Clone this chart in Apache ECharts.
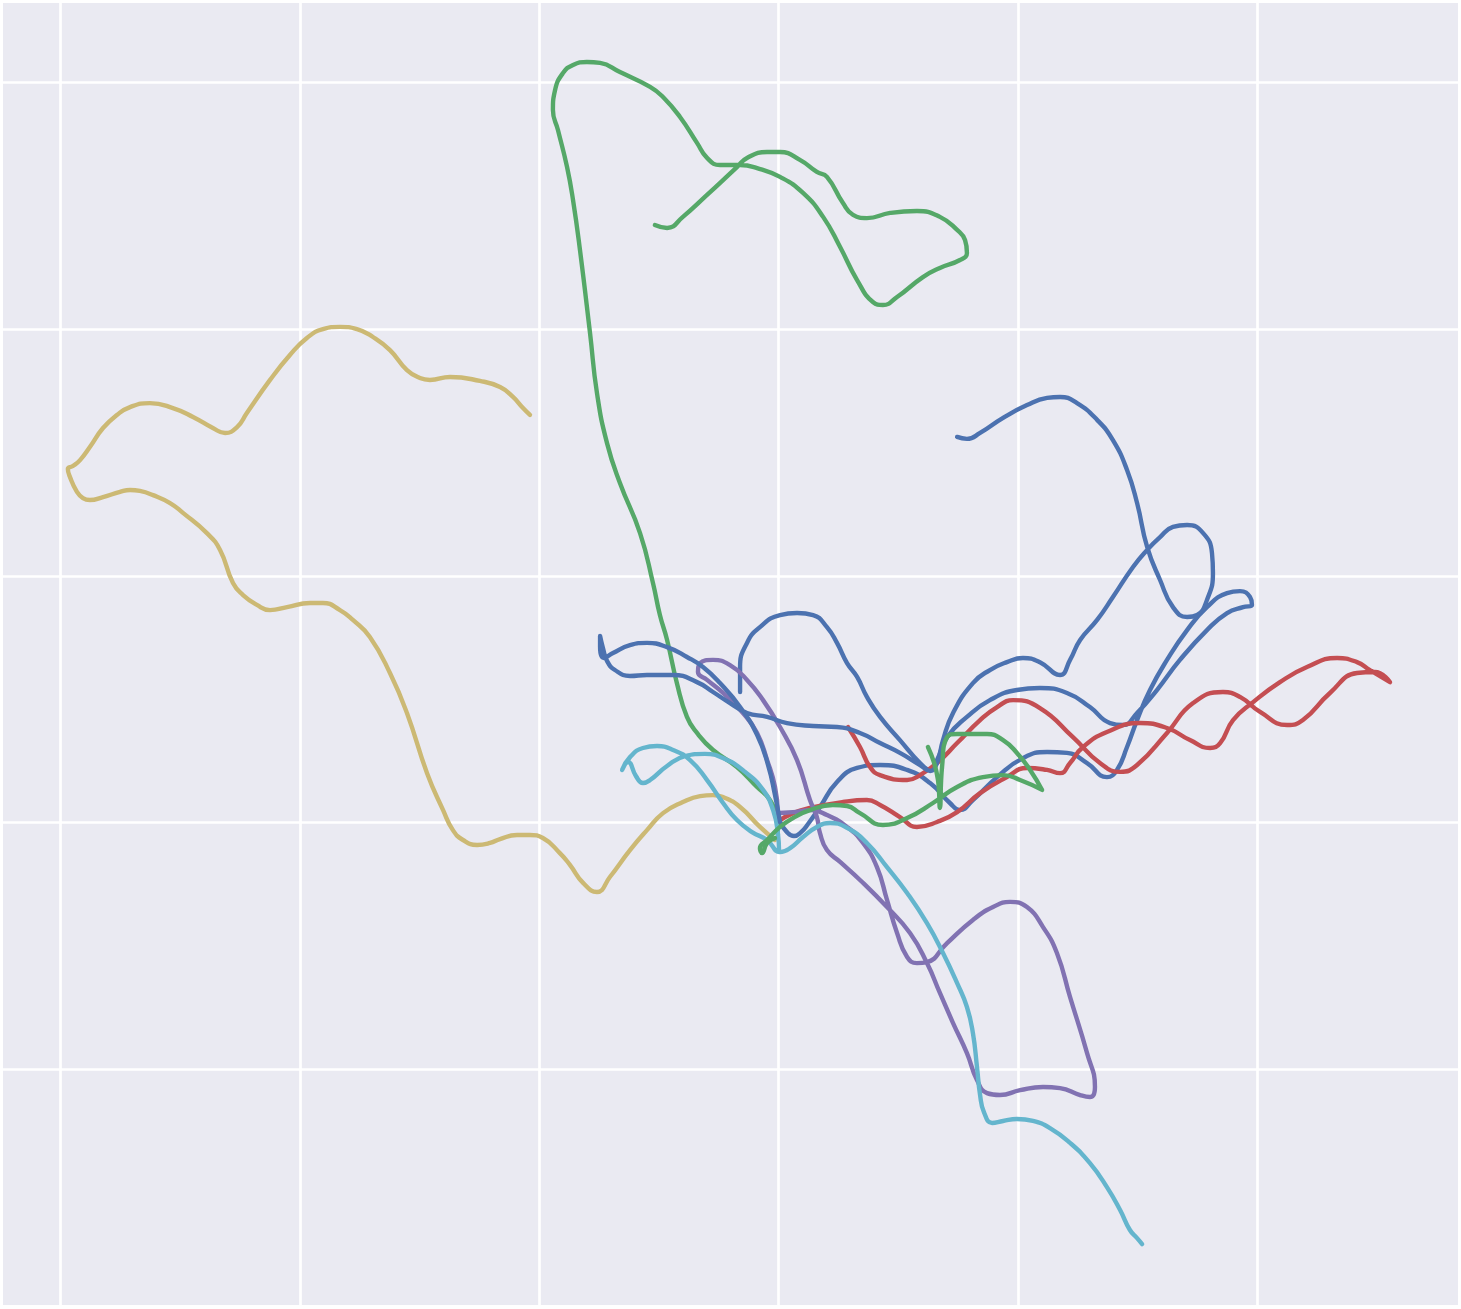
<!DOCTYPE html>
<html>
<head>
<meta charset="utf-8">
<script src="https://cdn.jsdelivr.net/npm/echarts@6/dist/echarts.min.js"></script>
<style>
html,body{margin:0;padding:0;background:#fff;}
#chart{width:1461px;height:1309px;}
</style>
</head>
<body>
<div id="chart"></div>
<script>
// Trajectories as [x, y] pairs (data units; gridlines at integers)
const blueA = [[0.006,0.003],[0.035,-0.038],[0.064,-0.054],[0.094,-0.038],[0.123,-0.005],[0.173,0.064],[0.244,0.165],[0.328,0.222],[0.424,0.234],[0.537,0.214],[0.633,0.161],[0.716,0.080],[0.758,0.051],[0.812,0.092],[0.913,0.185],[1.021,0.262],[1.122,0.287],[1.205,0.283],[1.289,0.242],[1.372,0.185],[1.414,0.214],[1.456,0.307],[1.498,0.416],[1.552,0.538],[1.623,0.660],[1.707,0.781],[1.790,0.874],[1.874,0.931],[1.928,0.939],[1.970,0.915],[1.978,0.883],[1.941,0.874],[1.874,0.850],[1.790,0.781],[1.677,0.660],[1.581,0.538],[1.498,0.445],[1.439,0.396],[1.385,0.404],[1.301,0.469],[1.205,0.526],[1.092,0.546],[0.996,0.538],[0.883,0.497],[0.787,0.429],[0.704,0.347],[0.662,0.254],[0.633,0.214],[0.591,0.242],[0.507,0.335],[0.424,0.429],[0.369,0.510],[0.328,0.591],[0.286,0.647],[0.244,0.729],[0.202,0.793],[0.144,0.842],[0.077,0.850],[0.006,0.842],[-0.078,0.793],[-0.132,0.729],[-0.161,0.631],[-0.161,0.530]];
const blueB = [[0.006,0.003],[-0.015,0.112],[-0.044,0.234],[-0.090,0.356],[-0.161,0.469],[-0.245,0.566],[-0.316,0.631],[-0.383,0.672],[-0.466,0.712],[-0.550,0.729],[-0.621,0.720],[-0.692,0.688],[-0.730,0.668],[-0.746,0.712],[-0.746,0.757],[-0.734,0.708],[-0.717,0.656],[-0.684,0.619],[-0.621,0.595],[-0.550,0.599],[-0.441,0.599],[-0.341,0.570],[-0.274,0.530],[-0.203,0.485],[-0.132,0.445],[-0.048,0.429],[0.035,0.404],[0.144,0.392],[0.244,0.388],[0.340,0.364],[0.424,0.323],[0.507,0.283],[0.591,0.234],[0.633,0.210],[0.662,0.242],[0.687,0.335],[0.729,0.445],[0.812,0.566],[0.883,0.619],[0.954,0.651],[1.021,0.668],[1.092,0.651],[1.176,0.599],[1.218,0.660],[1.260,0.741],[1.331,0.822],[1.397,0.915],[1.481,1.037],[1.540,1.106],[1.594,1.158],[1.648,1.199],[1.707,1.207],[1.774,1.174],[1.811,1.093],[1.815,1.012],[1.790,0.903],[1.749,0.842],[1.707,0.834],[1.648,0.874],[1.594,0.984],[1.540,1.118],[1.498,1.296],[1.456,1.430],[1.397,1.551],[1.331,1.633],[1.247,1.701],[1.176,1.726],[1.122,1.722],[1.038,1.693],[0.938,1.641],[0.842,1.580],[0.787,1.556],[0.746,1.564]];
const greenA = [[-0.003,-0.050],[-0.007,0.011],[-0.036,0.092],[-0.090,0.145],[-0.174,0.226],[-0.274,0.295],[-0.341,0.364],[-0.383,0.429],[-0.425,0.566],[-0.466,0.741],[-0.496,0.842],[-0.525,0.972],[-0.579,1.174],[-0.663,1.377],[-0.717,1.539],[-0.759,1.742],[-0.788,1.985],[-0.830,2.322],[-0.859,2.524],[-0.884,2.658],[-0.922,2.808],[-0.943,2.889],[-0.934,2.970],[-0.901,3.039],[-0.859,3.072],[-0.801,3.084],[-0.746,3.080],[-0.663,3.043],[-0.537,2.983],[-0.483,2.942],[-0.412,2.861],[-0.341,2.756],[-0.299,2.695],[-0.245,2.666],[-0.161,2.666],[-0.090,2.654],[0.006,2.618],[0.102,2.553],[0.186,2.456],[0.257,2.334],[0.328,2.200],[0.394,2.111],[0.436,2.099],[0.495,2.131],[0.603,2.212],[0.674,2.249],[0.758,2.281],[0.787,2.310],[0.779,2.362],[0.746,2.403],[0.674,2.456],[0.578,2.480],[0.466,2.472],[0.369,2.451],[0.311,2.464],[0.269,2.512],[0.202,2.618],[0.160,2.638],[0.089,2.687],[0.006,2.719],[-0.048,2.719],[-0.132,2.695],[-0.174,2.658],[-0.299,2.545],[-0.400,2.456],[-0.466,2.411],[-0.517,2.423]];
const greenB = [[-0.015,-0.062],[-0.048,-0.082],[-0.069,-0.123],[-0.078,-0.103],[-0.048,-0.070],[0.006,-0.017],[0.060,0.019],[0.131,0.051],[0.227,0.072],[0.286,0.068],[0.340,0.039],[0.436,-0.009],[0.537,0.019],[0.645,0.080],[0.746,0.145],[0.854,0.185],[0.938,0.193],[1.009,0.173],[1.101,0.133],[1.051,0.214],[0.996,0.283],[0.938,0.335],[0.871,0.360],[0.746,0.360],[0.704,0.347],[0.683,0.226],[0.674,0.060],[0.666,0.173],[0.624,0.307]];
const redA = [[-0.007,0.003],[0.060,0.039],[0.131,0.060],[0.269,0.084],[0.369,0.092],[0.424,0.072],[0.507,0.023],[0.578,-0.017],[0.662,0.003],[0.746,0.043],[0.842,0.120],[0.954,0.185],[1.038,0.222],[1.122,0.214],[1.176,0.201],[1.218,0.242],[1.272,0.307],[1.372,0.368],[1.510,0.404],[1.623,0.384],[1.719,0.335],[1.803,0.303],[1.845,0.323],[1.899,0.416],[1.983,0.489],[2.095,0.570],[2.208,0.631],[2.334,0.668],[2.417,0.651],[2.471,0.619],[2.555,0.570],[2.492,0.611],[2.417,0.607],[2.304,0.526],[2.191,0.416],[2.125,0.396],[2.012,0.449],[1.928,0.510],[1.857,0.530],[1.732,0.485],[1.623,0.364],[1.498,0.234],[1.427,0.206],[1.343,0.242],[1.230,0.347],[1.092,0.465],[0.980,0.497],[0.913,0.469],[0.842,0.416],[0.746,0.323],[0.662,0.242],[0.591,0.193],[0.537,0.173],[0.424,0.193],[0.382,0.226],[0.340,0.307],[0.290,0.388]];
const purpleA = [[-0.003,0.039],[-0.015,0.145],[-0.048,0.254],[-0.090,0.364],[-0.149,0.445],[-0.232,0.526],[-0.299,0.579],[-0.337,0.611],[-0.328,0.647],[-0.274,0.660],[-0.203,0.639],[-0.132,0.579],[-0.065,0.497],[0.006,0.388],[0.077,0.254],[0.131,0.092],[0.160,0.023],[0.173,-0.042],[0.202,-0.111],[0.257,-0.159],[0.340,-0.232],[0.453,-0.342],[0.549,-0.447],[0.620,-0.569],[0.674,-0.690],[0.729,-0.812],[0.787,-0.934],[0.829,-1.043],[0.871,-1.096],[0.925,-1.104],[1.009,-1.084],[1.105,-1.071],[1.176,-1.076],[1.260,-1.104],[1.301,-1.112],[1.322,-1.071],[1.289,-0.934],[1.218,-0.707],[1.163,-0.528],[1.105,-0.423],[1.038,-0.342],[0.967,-0.321],[0.896,-0.342],[0.812,-0.394],[0.704,-0.488],[0.620,-0.565],[0.578,-0.569],[0.537,-0.544],[0.495,-0.447],[0.453,-0.313],[0.411,-0.180],[0.353,-0.082],[0.286,-0.017],[0.202,0.031],[0.131,0.051],[0.060,0.043],[-0.015,0.039]];
const yellowA = [[-0.015,-0.070],[-0.078,-0.017],[-0.161,0.064],[-0.232,0.104],[-0.274,0.112],[-0.328,0.108],[-0.400,0.084],[-0.483,0.039],[-0.550,-0.030],[-0.621,-0.111],[-0.705,-0.220],[-0.759,-0.281],[-0.817,-0.244],[-0.872,-0.171],[-0.914,-0.123],[-0.985,-0.062],[-1.039,-0.050],[-1.093,-0.050],[-1.164,-0.066],[-1.206,-0.082],[-1.260,-0.090],[-1.319,-0.070],[-1.361,-0.030],[-1.402,0.051],[-1.469,0.201],[-1.553,0.445],[-1.624,0.607],[-1.708,0.753],[-1.779,0.822],[-1.833,0.862],[-1.904,0.891],[-1.958,0.891],[-2.054,0.874],[-2.125,0.862],[-2.180,0.883],[-2.238,0.923],[-2.280,0.972],[-2.334,1.106],[-2.389,1.174],[-2.489,1.256],[-2.543,1.296],[-2.614,1.328],[-2.669,1.345],[-2.710,1.349],[-2.752,1.341],[-2.823,1.320],[-2.878,1.308],[-2.907,1.316],[-2.932,1.341],[-2.961,1.401],[-2.970,1.434],[-2.949,1.446],[-2.919,1.470],[-2.878,1.523],[-2.823,1.600],[-2.765,1.653],[-2.710,1.685],[-2.627,1.701],[-2.531,1.681],[-2.447,1.645],[-2.364,1.600],[-2.313,1.580],[-2.263,1.604],[-2.222,1.661],[-2.125,1.795],[-2.042,1.896],[-1.971,1.965],[-1.904,2.001],[-1.833,2.010],[-1.762,2.001],[-1.695,1.969],[-1.624,1.916],[-1.553,1.835],[-1.499,1.803],[-1.457,1.795],[-1.373,1.807],[-1.248,1.791],[-1.164,1.766],[-1.110,1.726],[-1.068,1.681],[-1.039,1.653]];
const cyanA = [[0.002,-0.119],[-0.003,-0.042],[-0.023,0.051],[-0.065,0.133],[-0.140,0.206],[-0.224,0.258],[-0.308,0.279],[-0.391,0.270],[-0.466,0.230],[-0.537,0.173],[-0.567,0.161],[-0.596,0.189],[-0.629,0.246],[-0.654,0.214],[-0.621,0.266],[-0.567,0.303],[-0.508,0.311],[-0.441,0.295],[-0.370,0.254],[-0.299,0.173],[-0.232,0.080],[-0.174,0.011],[-0.111,-0.038],[-0.048,-0.070],[0.006,-0.119],[0.048,-0.103],[0.102,-0.058],[0.160,-0.017],[0.215,-0.001],[0.286,-0.021],[0.369,-0.082],[0.453,-0.180],[0.537,-0.285],[0.620,-0.407],[0.687,-0.528],[0.746,-0.650],[0.787,-0.747],[0.812,-0.853],[0.829,-0.990],[0.842,-1.104],[0.858,-1.173],[0.892,-1.217],[0.938,-1.209],[0.996,-1.201],[1.063,-1.209],[1.134,-1.238],[1.218,-1.298],[1.301,-1.380],[1.372,-1.477],[1.427,-1.570],[1.468,-1.651],[1.498,-1.684],[1.519,-1.708]];

const palette = {blue:'#4C72B0', green:'#55A868', red:'#C44E52', purple:'#8172B2', yellow:'#CCB974', cyan:'#64B5CD'};
const paths = [
  [blueA, palette.blue], [greenA, palette.green], [redA, palette.red], [purpleA, palette.purple],
  [yellowA, palette.yellow], [cyanA, palette.cyan], [blueB, palette.blue], [greenB, palette.green]
];

const chart = echarts.init(document.getElementById('chart'), null, {renderer:'canvas'});
const axisCommon = {
  type:'value',
  minInterval:1, maxInterval:1,
  axisLine:{show:false}, axisTick:{show:false}, axisLabel:{show:false},
  splitLine:{show:true, showMinLine:false, showMaxLine:false, lineStyle:{color:'#ffffff', width:2.7}}
};
chart.setOption({
  animation:false,
  backgroundColor:'#ffffff',
  grid:{left:3, right:3, top:3, bottom:4, show:true, backgroundColor:'#EAEAF2', borderWidth:0, containLabel:false},
  xAxis:Object.assign({}, axisCommon, {min:-3.241, max:2.839}),
  yAxis:Object.assign({}, axisCommon, {min:-1.955, max:3.323}),
  series: paths.map(p => ({
    type:'line', data:p[0], showSymbol:false, symbol:'none', smooth:0.5,
    lineStyle:{color:p[1], width:4.4, cap:'round', join:'round'},
    clip:true
  }))
});
</script>
</body>
</html>
